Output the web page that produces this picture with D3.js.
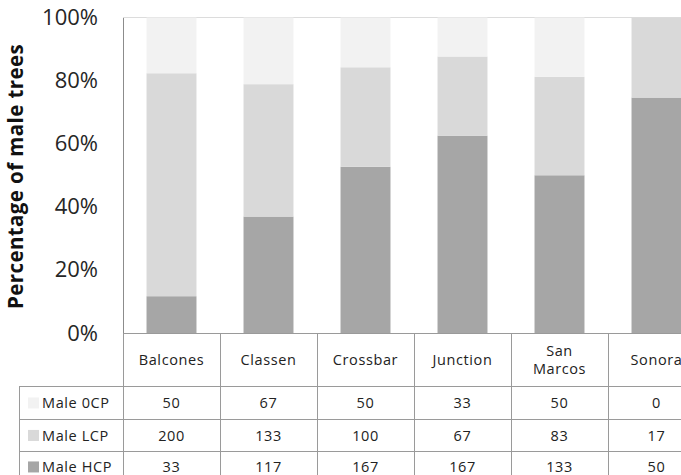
<!DOCTYPE html>
<html>
<head>
<meta charset="utf-8">
<script src="https://cdn.jsdelivr.net/npm/d3@7"></script>
<style>
  html, body { margin: 0; padding: 0; background: #fff; }
  svg { display: block; font-family: "Open Sans", sans-serif; }
</style>
</head>
<body>
<svg id="chart" width="681" height="475"></svg>
<script>
// Sites and counts of male trees per cone-production class
const sites = ["Balcones", "Classen", "Crossbar", "Junction", "San Marcos", "Sonora"];
const siteLines = [["Balcones"], ["Classen"], ["Crossbar"], ["Junction"], ["San", "Marcos"], ["Sonora"]];
const seriesNames = ["Male 0CP", "Male LCP", "Male HCP"];
const male0CP = [50, 67, 50, 33, 50, 0];
const maleLCP = [200, 133, 100, 67, 83, 17];
const maleHCP = [33, 117, 167, 167, 133, 50];
const seriesColors = ["#f2f2f2", "#d9d9d9", "#a6a6a6"];
const yTicks = [0, 0.2, 0.4, 0.6, 0.8, 1.0];

const svg = d3.select("#chart");

const plotLeft = 123, plotRight = 705, plotTop = 17.5, plotBottom = 333;
const tableLeft = 19;
const headerBottom = 386.7;
const rowH = 32.5;

// Stack HCP at the bottom, then LCP, then 0CP on top, as shares of each site's total
const rows = sites.map((s, i) => {
  const tot = male0CP[i] + maleLCP[i] + maleHCP[i];
  return { site: s, hcp: maleHCP[i] / tot, lcp: maleLCP[i] / tot, ocp: male0CP[i] / tot };
});
const keys = ["hcp", "lcp", "ocp"];
const keyColor = { hcp: seriesColors[2], lcp: seriesColors[1], ocp: seriesColors[0] };
const stack = d3.stack().keys(keys)(rows);

const x = d3.scaleBand().domain(sites).range([plotLeft, plotRight])
  .paddingInner(0.485).paddingOuter(0.2425);
const col = d3.scaleBand().domain(sites).range([plotLeft, plotRight]).padding(0);
const y = d3.scaleLinear().domain([0, 1]).range([plotBottom, plotTop]);

// top gridline (100%)
svg.append("line")
  .attr("x1", plotLeft).attr("x2", plotRight)
  .attr("y1", y(1)).attr("y2", y(1))
  .attr("stroke", "#dcdcdc").attr("stroke-width", 1);

// stacked bars
svg.append("g").selectAll("g").data(stack).join("g")
  .attr("fill", d => keyColor[d.key])
  .selectAll("rect").data(d => d).join("rect")
  .attr("x", d => x(d.data.site))
  .attr("width", x.bandwidth())
  .attr("y", d => y(d[1]))
  .attr("height", d => y(d[0]) - y(d[1]));

// y axis with percent labels, no tick marks
const yAxis = d3.axisLeft(y).tickValues(yTicks).tickFormat(d3.format(".0%")).tickSize(0).tickPadding(25);
const gy = svg.append("g").attr("transform", `translate(${plotLeft},0)`).call(yAxis);
gy.select(".domain").attr("stroke", "#8c8c8c");
gy.selectAll("text").attr("font-size", 22).attr("fill", "#262626")
  .attr("font-family", "Open Sans, sans-serif");

// y axis title
svg.append("text")
  .attr("transform", `translate(23,${(40 + 313) / 2}) rotate(-90)`)
  .attr("text-anchor", "middle")
  .attr("font-size", 20.5).attr("font-weight", "bold").attr("fill", "#111")
  .attr("letter-spacing", 0.4)
  .text("Percentage of male trees");

// data table
const lineColor = "#9a9a9a";
const tbl = svg.append("g").attr("stroke", lineColor).attr("stroke-width", 1).attr("shape-rendering", "crispEdges");
// bottom edge of the plot (x axis line)
tbl.append("line").attr("x1", plotLeft).attr("x2", plotRight).attr("y1", plotBottom).attr("y2", plotBottom);
// vertical column separators
sites.concat(["__end"]).forEach((s, i) => {
  const xx = i < sites.length ? col(s) : plotRight;
  tbl.append("line").attr("x1", xx).attr("x2", xx).attr("y1", plotBottom).attr("y2", 475);
});
// left edge of legend column
tbl.append("line").attr("x1", tableLeft).attr("x2", tableLeft).attr("y1", headerBottom).attr("y2", 475);
// horizontal row lines
[0, 1, 2, 3].forEach(r => {
  const yy = headerBottom + r * rowH;
  tbl.append("line").attr("x1", tableLeft).attr("x2", plotRight).attr("y1", yy).attr("y2", yy);
});

// header labels
const hdr = svg.append("g").attr("font-size", 14.5).attr("letter-spacing", 0.6)
  .attr("fill", "#222").attr("text-anchor", "middle");
siteLines.forEach((lines, i) => {
  const cx = col(sites[i]) + col.bandwidth() / 2;
  const cy = (plotBottom + headerBottom) / 2;
  const lh = 18;
  lines.forEach((ln, j) => {
    hdr.append("text")
      .attr("x", cx)
      .attr("y", cy + (j - (lines.length - 1) / 2) * lh)
      .attr("dy", "0.35em")
      .text(ln);
  });
});

// body rows: legend swatch + name, then values
const rowValues = [male0CP, maleLCP, maleHCP];
const body = svg.append("g").attr("font-size", 14.5).attr("letter-spacing", 0.6).attr("fill", "#222");
seriesNames.forEach((name, r) => {
  const cy = headerBottom + r * rowH + rowH / 2 - (r === 2 ? 1 : 0);
  body.append("rect")
    .attr("x", 28).attr("y", cy - 5.5).attr("width", 11).attr("height", 11)
    .attr("fill", seriesColors[r]);
  body.append("text")
    .attr("x", 42).attr("y", cy).attr("dy", "0.35em")
    .text(name);
  rowValues[r].forEach((v, i) => {
    body.append("text")
      .attr("x", col(sites[i]) + col.bandwidth() / 2)
      .attr("y", cy).attr("dy", "0.35em")
      .attr("text-anchor", "middle")
      .text(v);
  });
});
</script>
</body>
</html>
